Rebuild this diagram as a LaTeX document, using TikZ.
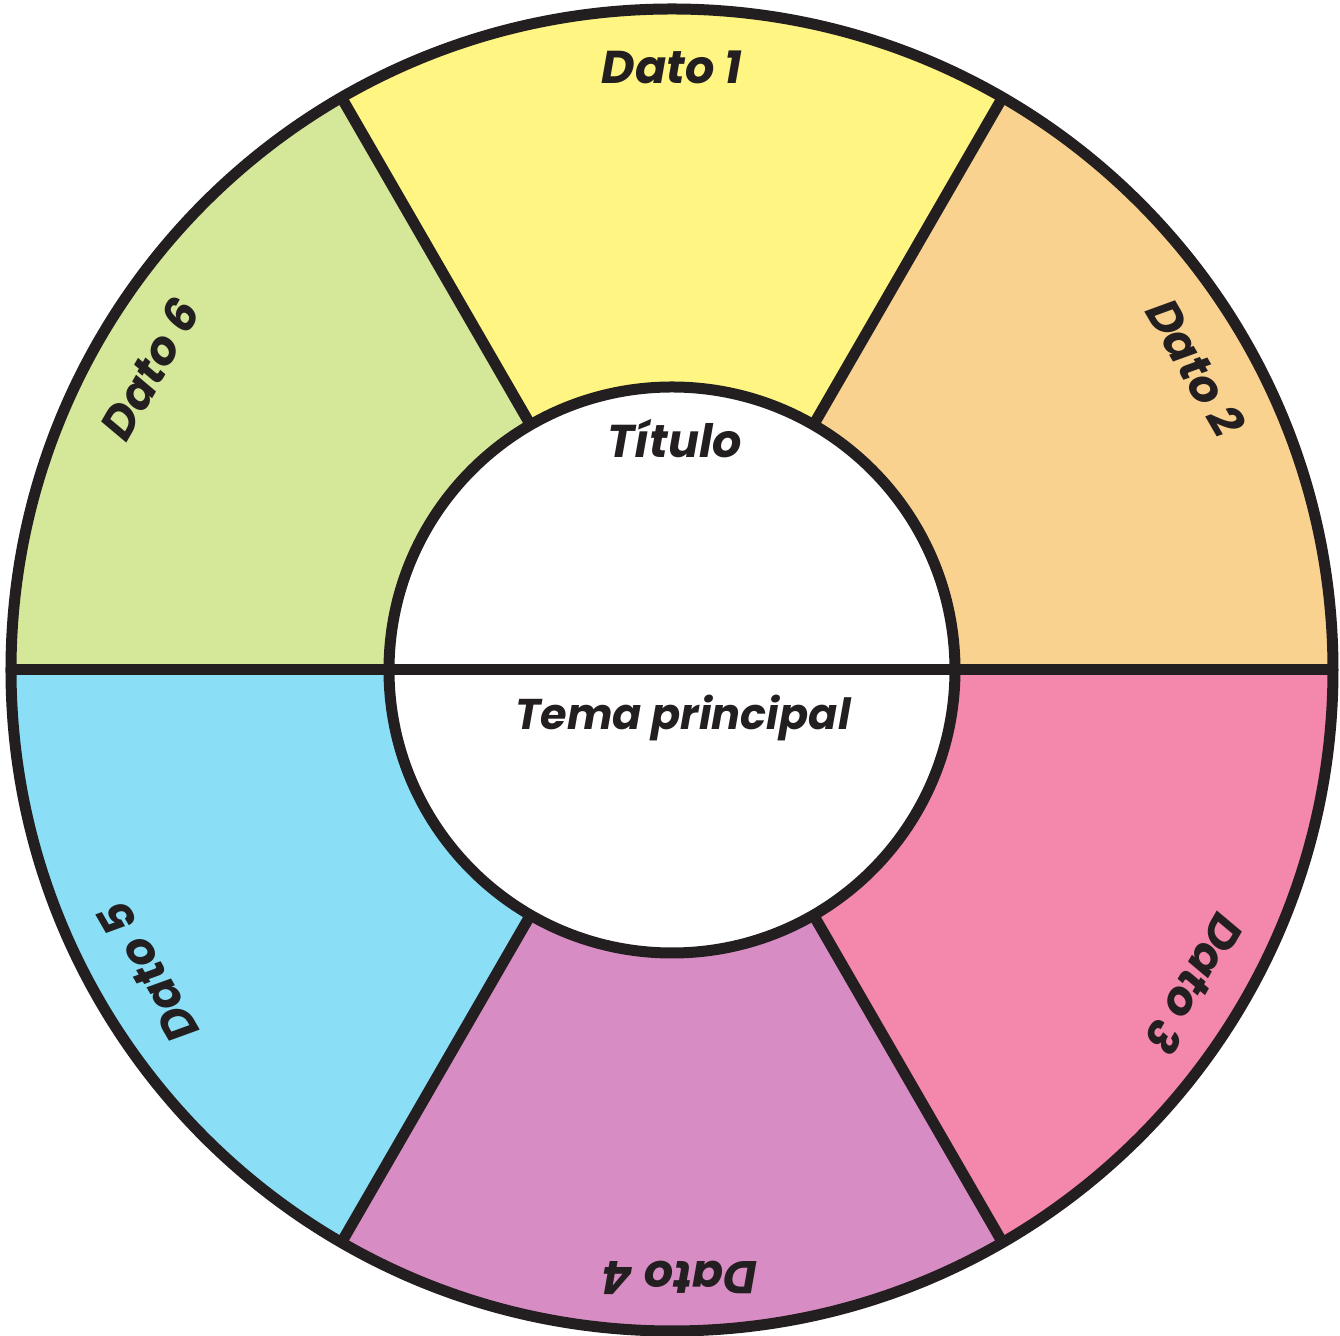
\documentclass[tikz,border=0pt]{standalone}
\usepackage{fontspec}
\setmainfont{Poppins}
\definecolor{ink}{HTML}{231F20}
\definecolor{cyel}{RGB}{255,245,130}
\definecolor{cora}{RGB}{250,210,143}
\definecolor{cpin}{RGB}{243,135,172}
\definecolor{cpur}{RGB}{216,140,196}
\definecolor{cblu}{RGB}{138,223,247}
\definecolor{cgre}{RGB}{213,231,153}
\begin{document}
\begin{tikzpicture}[x=0.5pt,y=0.5pt,
  ringline/.style={draw=ink,line width=5.5pt},
  lbl/.style={font=\fontsize{23}{27}\selectfont\bfseries\itshape,text=ink,inner sep=0pt}]
\useasboundingbox (-672,-666) rectangle (668,670);
\def\ri{283}
\def\ro{661}
\foreach \a/\c in {60/cyel,0/cora,-60/cpin,240/cpur,180/cblu,120/cgre}{
  \fill[\c] (\a:\ri) arc[start angle=\a,delta angle=60,radius=\ri] -- (\a+60:\ro) arc[start angle=\a+60,delta angle=-60,radius=\ro] -- cycle;
}
\fill[white] (0,0) circle (\ri);
\coordinate (c) at (0,0);
\coordinate (L) at (180:\ro);
\coordinate (R) at (0:\ro);
\foreach \a in {60,120,240,300}{
  \coordinate (i\a) at (\a:\ri);
  \coordinate (o\a) at (\a:\ro);
  \draw[ringline] (i\a) -- (o\a);
}
\draw[ringline] (L) -- (R);
\draw[ringline] (c) circle (\ri);
\draw[ringline] (c) circle (\ro);
\node[lbl,rotate=0] (d1) at (90:603) {Dato 1};
\node[lbl,rotate=-60] (d2) at (30:605) {Dato 2};
\node[lbl,rotate=-120] (d3) at (-31:610) {Dato 3};
\node[lbl,rotate=180] (d4) at (8,-608) {Dato 4};
\node[lbl,rotate=120] (d5) at (210:605) {Dato 5};
\node[lbl,rotate=60] (d6) at (150:603) {Dato 6};
\node[lbl,anchor=base] (tit) at (3,212) {Título};
\node[lbl,anchor=base,font=\fontsize{21.5}{26}\selectfont\bfseries\itshape] (tema) at (11,-60) {Tema principal};
\end{tikzpicture}
\end{document}
